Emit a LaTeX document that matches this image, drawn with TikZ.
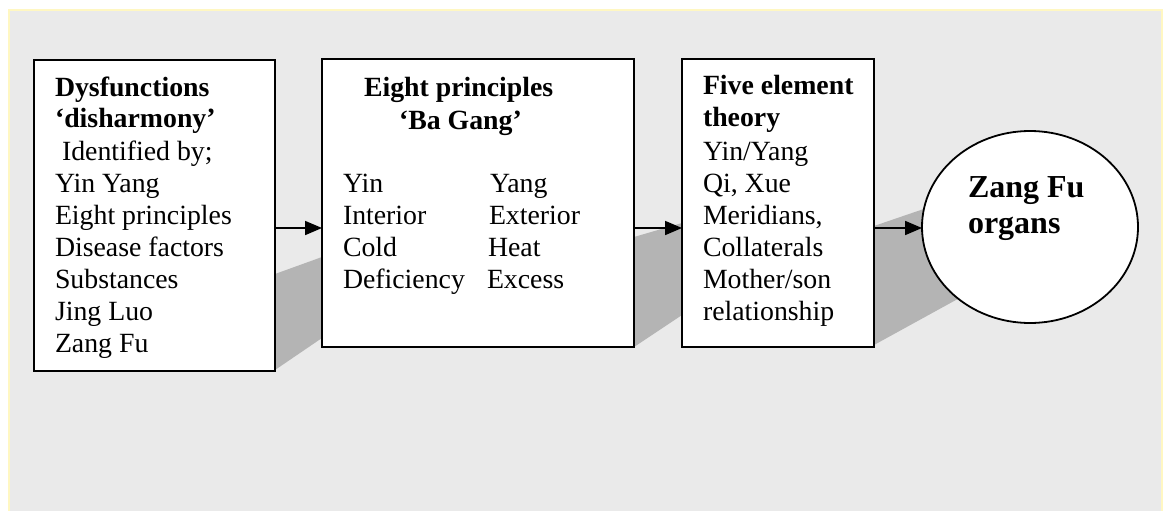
\documentclass[tikz,border=0pt]{standalone}
\usepackage{fontspec}
\setmainfont{Liberation Serif}
\usetikzlibrary{arrows.meta,shapes.geometric}
\definecolor{panel}{HTML}{EAEAEA}
\definecolor{panelrim}{HTML}{FFF7C2}
\definecolor{shade}{HTML}{B4B4B4}
\tikzset{
  box/.style={draw=black, fill=white, line width=1.8pt, rectangle, inner sep=0pt, outer sep=0pt},
  organ/.style={draw=black, fill=white, line width=1.8pt, ellipse, inner sep=0pt, outer sep=0pt},
  txt/.style={anchor=base west, inner sep=0pt, outer sep=0pt, font=\fontsize{27.8}{32}\selectfont},
  boldtxt/.style={txt, font=\fontsize{27.8}{32}\selectfont\bfseries},
  bigtxt/.style={anchor=base west, inner sep=0pt, outer sep=0pt, font=\fontsize{32}{36}\selectfont\bfseries},
  arr/.style={line width=1.8pt, -{Triangle[length=17pt,width=14pt]}},
  shadowpoly/.style={fill=shade, draw=none}
}
\begin{document}
\begin{tikzpicture}[x=1pt,y=-1pt]
\useasboundingbox (0,0) rectangle (1163,511);
% panel behind the diagram
\fill[panel] (9,10) rectangle (1163,513);
\draw[panelrim, line width=1.6pt] (9,513) -- (9,10) -- (1162,10) -- (1162,513);

% grey bands joining the stages
\fill[shadowpoly] (275,274) -- (322,257) -- (322,338) -- (275,370) -- cycle;
\fill[shadowpoly] (634,237) -- (682,223) -- (682,315) -- (634,347) -- cycle;
\fill[shadowpoly] (874,226) -- (985,188) -- (985,284) -- (874,345) -- cycle;

% stages
\node[box, minimum width=241pt, minimum height=311pt] (b1) at (154.5,215.5) {};
\node[box, minimum width=312pt, minimum height=288pt] (b2) at (478,203) {};
\node[box, minimum width=192pt, minimum height=288pt] (b3) at (778,203) {};
\node[organ, minimum width=216pt, minimum height=192pt] (zf) at (1030,227) {};

% connectors
\coordinate (ay) at (0,228);
\draw[arr] (b1.east |- ay) -- (b2.west |- ay);
\draw[arr] (b2.east |- ay) -- (b3.west |- ay);
\draw[arr] (b3.east |- ay) -- (zf.west |- ay);

% first stage text
\node[boldtxt] (t1a) at (55,96) {Dysfunctions};
\node[boldtxt] (t1b) at (55,128) {‘disharmony’};
\node[txt] (t1c) at (62,160) {Identified by;};
\node[txt] (t1d) at (55,192) {Yin Yang};
\node[txt] (t1e) at (55,224) {Eight principles};
\node[txt] (t1f) at (55,256) {Disease factors};
\node[txt] (t1g) at (55,288) {Substances};
\node[txt] (t1h) at (55,320) {Jing Luo};
\node[txt] (t1i) at (55,352) {Zang Fu};

% second stage text
\node[boldtxt] (t2a) at (364,97) {Eight principles};
\node[boldtxt] (t2b) at (399,129) {‘Ba Gang’};
\node[txt] (t2c) at (343,192) {Yin};
\node[txt] (t2d) at (343,224) {Interior};
\node[txt] (t2e) at (343,256) {Cold};
\node[txt] (t2f) at (343,288) {Deficiency};
\node[txt] (t2g) at (490,192) {Yang};
\node[txt] (t2h) at (489,224) {Exterior};
\node[txt] (t2i) at (488,256) {Heat};
\node[txt] (t2j) at (487,288) {Excess};

% third stage text
\node[boldtxt] (t3a) at (703,95) {Five element};
\node[boldtxt] (t3b) at (703,127) {theory};
\node[txt] (t3c) at (703,160) {Yin/Yang};
\node[txt] (t3d) at (703,192) {Qi, Xue};
\node[txt] (t3e) at (703,224) {Meridians,};
\node[txt] (t3f) at (703,256) {Collaterals};
\node[txt] (t3g) at (703,288) {Mother/son};
\node[txt] (t3h) at (703,320) {relationship};

% final stage text
\node[bigtxt] (t4a) at (968,197) {Zang Fu};
\node[bigtxt] (t4b) at (968,233) {organs};
\end{tikzpicture}
\end{document}
